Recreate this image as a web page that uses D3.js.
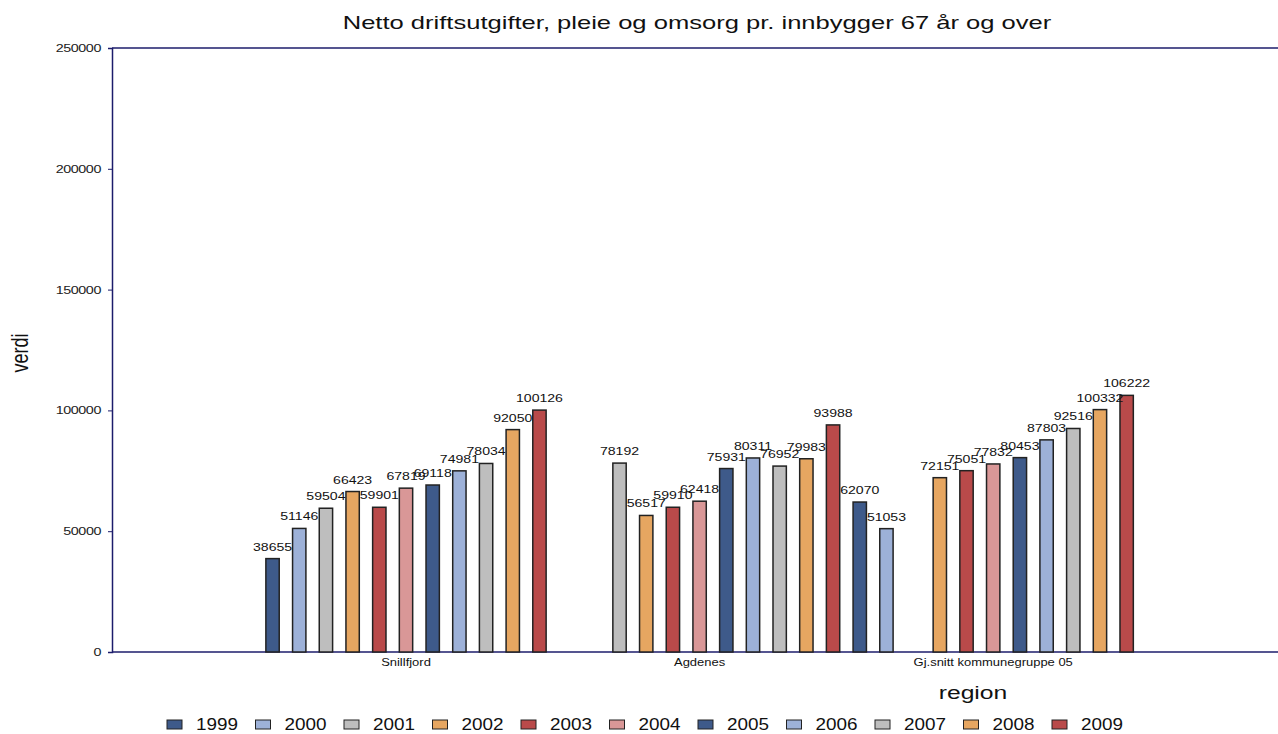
<!DOCTYPE html>
<html>
<head>
<meta charset="utf-8">
<script src="https://cdn.jsdelivr.net/npm/d3@7"></script>
<style>
  body { margin: 0; background: #fff; }
  text { font-family: 'Liberation Sans', Arial, sans-serif; fill: #111; }
</style>
</head>
<body>
<div id="chart"></div>
<script>
const regions = ['Snillfjord', 'Agdenes', 'Gj.snitt kommunegruppe 05'];
const years = ['1999', '2000', '2001', '2002', '2003', '2004', '2005', '2006', '2007', '2008', '2009'];

const snillfjord = [38655, 51146, 59504, 66423, 59901, 67819, 69118, 74981, 78034, 92050, 100126];
const agdenes = [null, null, 78192, 56517, 59910, 62418, 75931, 80311, 76952, 79983, 93988];
const kommunegruppe = [62070, 51053, null, 72151, 75051, 77832, 80453, 87803, 92516, 100332, 106222];

const yTicks = [0, 50000, 100000, 150000, 200000, 250000];

const colors = [
  '#3e5a8a', '#9db1d8', '#bebebe', '#e6a661', '#b94a4a', '#d99797',
  '#3e5a8a', '#9db1d8', '#bebebe', '#e6a661', '#b94a4a',
];

const width = 1278,
  height = 734,
  plotLeft = 112,
  plotTop = 48,
  plotBottom = 652;

// the original picture is stretched sideways, so text gets a horizontal scale
const stretch = (x, y, s) => `translate(${x},${y}) scale(${s},1)`;

const series = [snillfjord, agdenes, kommunegruppe];
const data = [];
regions.forEach((r, i) => {
  years.forEach((y, j) => {
    if (series[i][j] != null) data.push({ region: r, year: y, value: series[i][j], idx: j });
  });
});

const svg = d3.select('#chart').append('svg').attr('width', width).attr('height', height);

const x0 = d3.scaleBand().domain(regions).range([259.2, 1140]).padding(0);
const x1 = d3.scaleBand().domain(years).range([0, x0.bandwidth()]).paddingInner(0.5).paddingOuter(0.25);
const y = d3.scaleLinear().domain([0, 250000]).range([plotBottom, plotTop]);

// frame lines
svg.append('line').attr('x1', plotLeft).attr('x2', width).attr('y1', plotTop).attr('y2', plotTop)
  .attr('stroke', '#1c1c6b').attr('stroke-width', 1.5);
svg.append('line').attr('x1', plotLeft).attr('x2', width).attr('y1', plotBottom).attr('y2', plotBottom)
  .attr('stroke', '#1c1c6b').attr('stroke-width', 1.5);

const yAxis = svg.append('g')
  .attr('transform', `translate(${plotLeft},0)`)
  .call(d3.axisLeft(y).tickValues(yTicks).tickFormat(d3.format('d')).tickSize(4).tickPadding(6));
yAxis.select('.domain').attr('stroke', '#1c1c6b').attr('stroke-width', 1.5);
yAxis.selectAll('.tick line').attr('stroke', '#1c1c6b');
yAxis.selectAll('.tick text')
  .attr('x', 0)
  .attr('transform', stretch(-11, 0, 1.3))
  .style('font-size', '11px').style('fill', '#222')
  .style('letter-spacing', '-0.3px').style('font-family', "'Liberation Sans', Arial, sans-serif");

// bars
svg.selectAll('rect.bar')
  .data(data)
  .enter()
  .append('rect')
  .attr('class', 'bar')
  .attr('x', (d) => x0(d.region) + x1(d.year))
  .attr('y', (d) => y(d.value))
  .attr('width', x1.bandwidth())
  .attr('height', (d) => plotBottom - y(d.value))
  .attr('fill', (d) => colors[d.idx])
  .attr('stroke', '#222')
  .attr('stroke-width', 1.5);

// value labels
svg.selectAll('text.val')
  .data(data)
  .enter()
  .append('text')
  .attr('class', 'val')
  .attr('transform', (d) => stretch(x0(d.region) + x1(d.year) + x1.bandwidth() / 2, y(d.value) - 8, 1.28))
  .attr('text-anchor', 'middle')
  .style('font-size', '11px')
  .text((d) => d.value);

// category labels
svg.selectAll('text.cat')
  .data(regions)
  .enter()
  .append('text')
  .attr('class', 'cat')
  .attr('transform', (d) => stretch(x0(d) + x0.bandwidth() / 2, 666, 1.18))
  .attr('text-anchor', 'middle')
  .style('font-size', '11px')
  .text((d) => d);

// titles
svg.append('text')
  .attr('transform', stretch(697, 29, 1.42))
  .attr('text-anchor', 'middle')
  .style('font-size', '18px')
  .text('Netto driftsutgifter, pleie og omsorg pr. innbygger 67 år og over');

svg.append('text')
  .attr('transform', 'translate(28,353) scale(1.3,1) rotate(-90)')
  .attr('text-anchor', 'middle')
  .style('font-size', '18px')
  .text('verdi');

svg.append('text')
  .attr('transform', stretch(973, 699, 1.3))
  .attr('text-anchor', 'middle')
  .style('font-size', '19px')
  .text('region');

// legend
const legend = svg.append('g');
const item = legend.selectAll('g')
  .data(years)
  .enter()
  .append('g')
  .attr('transform', (d, i) => `translate(${167 + i * 88.5},720)`);
item.append('rect')
  .attr('width', 15)
  .attr('height', 9)
  .attr('fill', (d, i) => colors[i])
  .attr('stroke', '#222')
  .attr('stroke-width', 1);
item.append('text')
  .attr('transform', stretch(29, 10, 1.18))
  .style('font-size', '16px')
  .text((d) => d);
</script>
</body>
</html>
